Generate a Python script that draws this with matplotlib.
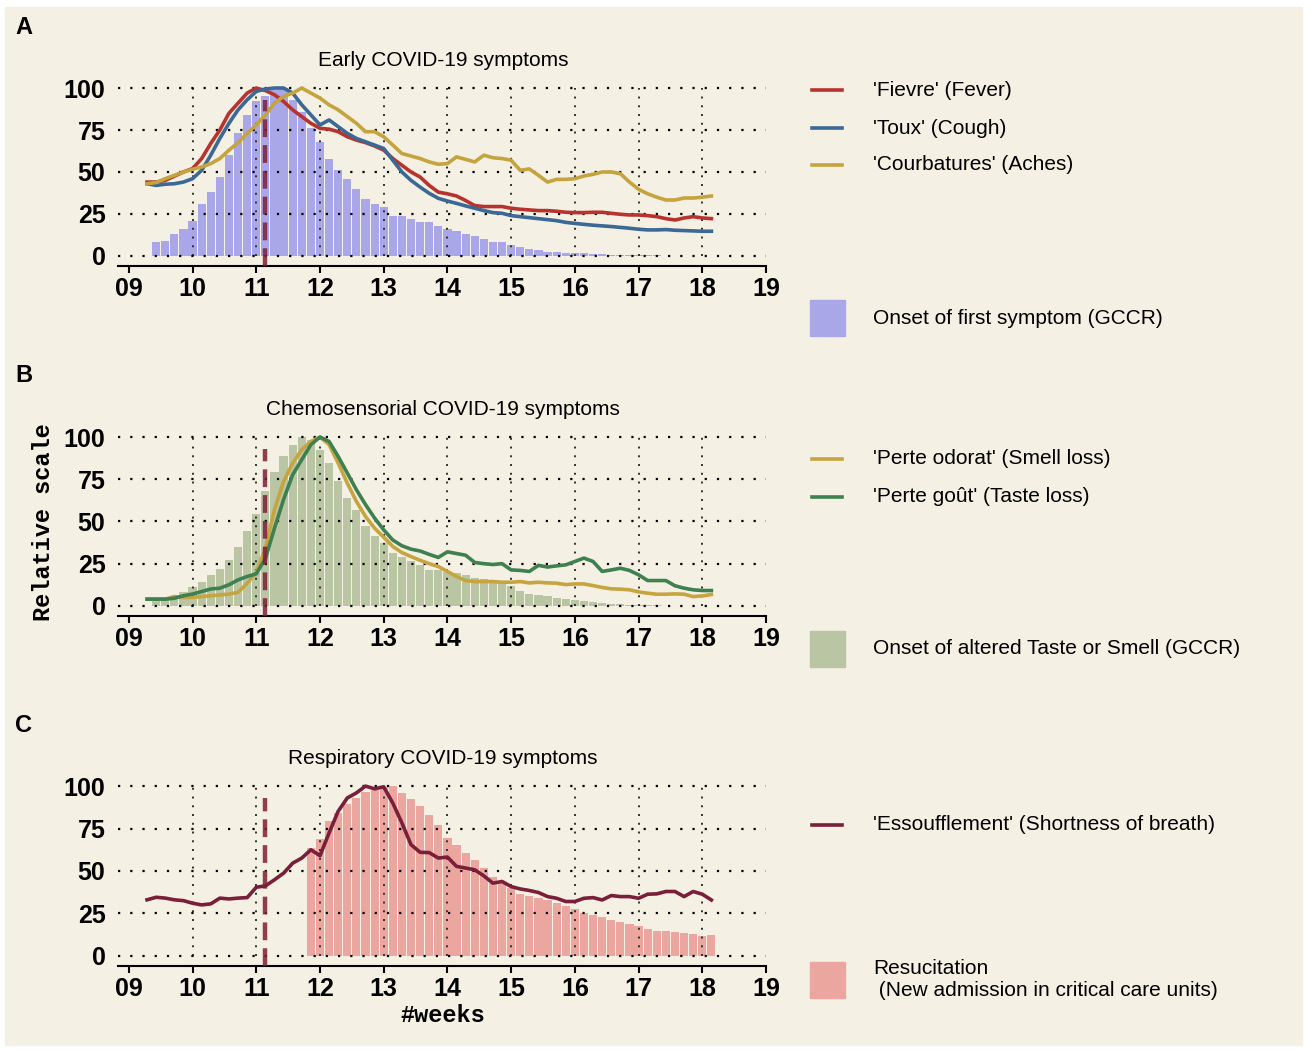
import numpy as np
import matplotlib
matplotlib.use("Agg")
import matplotlib.pyplot as plt
from matplotlib.lines import Line2D
from matplotlib.patches import Rectangle

plt.rcParams["font.family"] = ["Liberation Sans", "DejaVu Sans"]

# ---- data (relative scale, one value per day) ----
# Google trends lines start on week 09 day 2, bars (GCCR / ICU) on week 09 day 3
fever = [44, 44, 45, 47.5, 50, 52, 58, 67, 75, 85,
         91, 97, 100, 98.5, 96, 92, 87, 83, 79, 76,
         75.5, 74, 71, 69, 67.5, 65.5, 63, 58, 54, 50,
         47, 42, 38, 37, 35.7, 33, 30, 29.4, 29.4, 29.4,
         28.4, 27.8, 27.4, 27, 27, 26.6, 26, 25.8, 25.8, 26,
         26, 25.4, 24.8, 24.4, 24.4, 24, 23.4, 22.2, 21.4, 22.6,
         23.4, 22.6, 22.2]
cough = [43, 42, 42.7, 43, 44, 46, 51, 60, 70, 79,
         87, 93, 98, 99.4, 100, 100, 97, 90, 84, 78,
         81, 77, 73, 70, 68, 66, 64, 57, 50, 45,
         41, 37.3, 34.3, 32.7, 31.3, 29.8, 28.4, 27, 25.8, 25.4,
         24, 23.4, 22.8, 22.2, 21.6, 21, 20, 19.4, 18.8, 18.3,
         17.9, 17.5, 17, 16.5, 15.9, 15.5, 15.5, 15.7, 15.3, 15.1,
         14.9, 14.7, 14.7]
aches = [43, 43.7, 46, 48, 50, 51.6, 53, 55, 58, 63,
         67.5, 73, 78, 84, 91, 95, 97, 100, 97, 94,
         90, 87, 83, 79, 74, 74, 71, 66, 61, 59.5,
         58, 56, 54.6, 55, 59, 57.5, 56, 60, 58.5, 58,
         57, 51, 51.8, 48, 44, 45.6, 45.6, 46, 47.6, 48.6,
         50, 50, 49, 44, 39.7, 37, 35, 33.3, 33.3, 34.5,
         34.5, 35, 35.7]
first_symptom = [8, 9, 13, 16, 21, 31, 38, 47, 60, 73,
                 84, 92, 95, 99, 100, 93, 86, 76, 68, 58,
                 51, 46, 40, 34, 31, 29, 24, 24, 22, 20,
                 20, 18, 16, 15, 13, 12, 10, 8.5, 8, 6.5,
                 5.2, 4.2, 3.4, 2.6, 2.2, 2, 1.8, 1.6, 1.2, 1,
                 0.8, 0.6, 0.6, 0.4, 0.4, 0.3, 0.2]

smell = [4, 4, 4, 5.5, 5, 5.1, 5.5, 6, 6.5, 7,
         8, 13.4, 19.8, 34, 57, 73.7, 84.6, 92.5, 97.4, 100,
         95.5, 84.6, 72.7, 61.9, 53, 46, 40.7, 35.2, 31.6, 29.2,
         27, 25, 23.3, 20.4, 17.4, 15, 14.4, 14.4, 14.4, 14,
         14, 14.4, 13.6, 14, 13.6, 13.4, 12.6, 13, 13, 12,
         10.9, 10.1, 9.9, 9.5, 8.3, 7.5, 6.9, 6.9, 7.1, 6.9,
         5.5, 5.9, 6.7]
taste = [4, 4, 4, 4.5, 6, 7, 8.5, 10, 10.5, 12.5,
         15.4, 17.4, 19, 28, 46, 63, 77.7, 86.6, 95.5, 100,
         97.4, 88.5, 78.7, 68.8, 60, 52, 45, 39, 35.6, 33.6,
         32.5, 30.5, 28.7, 32, 31, 30, 25.7, 25, 24.5, 25,
         21.3, 21, 20.4, 24, 23, 23.7, 24.3, 26.3, 28.3, 26.3,
         20.4, 21.3, 22.3, 21, 18.4, 15, 15, 15, 11.9, 10.5,
         9.5, 9.1, 9.1]
taste_smell_onset = [2.6, 3.6, 6, 8.5, 11, 14, 18.4, 22, 27.3, 34.6,
                     44.5, 54.5, 67.8, 79.6, 89, 95.5, 100, 98, 92.5, 84.6,
                     73.7, 63.8, 57, 47.4, 41.5, 37.5, 31.6, 29.2, 26.7, 24.3,
                     21.3, 21, 19.8, 19.4, 18.4, 16.4, 15.8, 15.4, 15, 11.5,
                     9, 7, 6.5, 6, 4.5, 4, 3.2, 2.8, 2.4, 1.8,
                     1.2, 1, 0.8, 0.8, 0.5, 0.3]

breath = [33, 34.5, 34, 33, 32.5, 31, 30, 30.6, 34, 33.5,
          34, 34.3, 40.4, 41.2, 44.8, 48.7, 54.6, 57.6, 62.5, 59,
          72.4, 85.2, 93, 96, 100, 98.4, 99.6, 90, 78.3, 65.5,
          61, 60.8, 57.6, 58.2, 52.7, 51.7, 50.7, 47.1, 42.8, 43.8,
          40.8, 39.4, 38.5, 37.3, 34.9, 33.9, 32, 32, 33.9, 34.3,
          32.9, 35.5, 34.9, 34.9, 33.9, 36.3, 36.5, 37.9, 37.9, 34.9,
          37.9, 36.3, 32.9]
icu_first_day = 17  # ICU admissions start 17 days after the first GCCR bar
icu = [63.5, 69, 79.3, 84.2, 89.2, 93, 96.4, 97.6, 99.6, 100,
       95.7, 92.5, 88.2, 83.2, 77.3, 69.4, 65.5, 60.6, 56.6, 51.7,
       46.4, 42.8, 39.8, 36.5, 35.3, 33.9, 32.9, 31.4, 29.4, 27.4,
       25.4, 24.1, 22.7, 21.1, 20.1, 18.7, 17.8, 16, 14.8, 14.8,
       14, 13.2, 12.6, 11.8, 12.2]

lockdown_week = 11 + 1 / 7
week_ticks = list(range(9, 20))
week_labels = ["%02d" % w for w in week_ticks]


def line_weeks(n):
    return 9 + (np.arange(n) + 2) / 7


def bar_weeks(n, offset=0):
    return 9 + (np.arange(n) + 3 + offset) / 7


# ---- colours ----
BG = "#f4f0e3"
C_FEVER = "#b8332f"
C_COUGH = "#3b6894"
C_ACHES = "#c4a43e"
C_SMELL = "#c6a43f"
C_TASTE = "#3f8050"
C_BREATH = "#7a1f3a"
C_DASH = "#7b1f35"
C_BAR_A = "#a9a7e8"
C_BAR_B = "#b9c5a3"
C_BAR_C = "#eca6a0"

W, H = 1307, 1050
fig = plt.figure(figsize=(W / 100, H / 100), dpi=100, facecolor="white")
fig.add_artist(Rectangle((5 / W, 1 - 1045 / H), 1297 / W, 1038 / H,
                         transform=fig.transFigure, color=BG, zorder=0))


def fx(x):
    return x / W


def fy(y):
    return 1 - y / H


def make_axes(top, bottom):
    ax = fig.add_axes([fx(118), fy(bottom), 648 / W, (bottom - top) / H])
    ax.set_facecolor("none")
    ax.set_xlim(8.83, 19.0)
    ax.set_ylim(-6, 103)
    for s in ["top", "right", "left"]:
        ax.spines[s].set_visible(False)
    ax.spines["bottom"].set_linewidth(1.5)
    ax.set_xticks(week_ticks)
    ax.set_xticklabels(week_labels, fontsize=18, fontweight="bold")
    ax.set_yticks([0, 25, 50, 75, 100])
    ax.set_yticklabels(["0", "25", "50", "75", "100"], fontsize=18, fontweight="bold")
    ax.tick_params(axis="x", direction="out", length=5, width=1.5, pad=3)
    ax.tick_params(axis="y", length=0, pad=9)
    ax.set_axisbelow("line")
    ax.yaxis.grid(True, color="black", linestyle=(0, (1, 4.5)), linewidth=1.6)
    ax.vlines(range(10, 19), 0, 100, color="#2e3326", linestyles=(0, (1, 3.5)),
              linewidth=1.4, zorder=1.5)
    return ax


def dash(ax):
    ax.vlines(lockdown_week, -6, 93, color=C_DASH, linewidth=3.2,
              linestyles=(0, (4, 1.8)), alpha=0.85, zorder=4)


def legend_line(y, color, label):
    fig.add_artist(Line2D([fx(812), fx(842)], [fy(y), fy(y)], color=color,
                          linewidth=2.6, transform=fig.transFigure))
    fig.text(fx(873), fy(y), label, fontsize=15, va="center", ha="left")


def legend_patch(y, color, label):
    fig.add_artist(Rectangle((fx(810), fy(y + 18)), 35 / W, 36 / H, color=color,
                             transform=fig.transFigure))
    fig.text(fx(873), fy(y), label, fontsize=15, va="center", ha="left",
             linespacing=1.2)


bw = 0.9 / 7

# ---- A ----
ax = make_axes(83, 266)
ax.bar(bar_weeks(len(first_symptom)), first_symptom, width=bw, color=C_BAR_A,
       linewidth=0, zorder=1)
ax.plot(line_weeks(len(fever)), fever, color=C_FEVER, lw=2.6, zorder=3)
ax.plot(line_weeks(len(cough)), cough, color=C_COUGH, lw=2.6, zorder=3)
ax.plot(line_weeks(len(aches)), aches, color=C_ACHES, lw=2.6, zorder=3)
dash(ax)
fig.text(fx(443), fy(60), "Early COVID-19 symptoms", fontsize=15, ha="center", va="center")
fig.text(fx(15), fy(27), "A", fontsize=17, fontweight="bold", va="center")
legend_line(90, C_FEVER, "'Fievre' (Fever)")
legend_line(128, C_COUGH, "'Toux' (Cough)")
legend_line(165, C_ACHES, "'Courbatures' (Aches)")
legend_patch(318, C_BAR_A, "Onset of first symptom (GCCR)")

# ---- B ----
ax = make_axes(432, 616)
ax.bar(bar_weeks(len(taste_smell_onset)), taste_smell_onset, width=bw, color=C_BAR_B,
       linewidth=0, zorder=1)
ax.plot(line_weeks(len(smell)), smell, color=C_SMELL, lw=2.6, zorder=3)
ax.plot(line_weeks(len(taste)), taste, color=C_TASTE, lw=2.6, zorder=3)
dash(ax)
fig.text(fx(443), fy(409), "Chemosensorial COVID-19 symptoms", fontsize=15, ha="center", va="center")
fig.text(fx(15), fy(376), "B", fontsize=17, fontweight="bold", va="center")
fig.text(fx(44), fy(522), "Relative scale", family="Liberation Mono", fontweight="bold",
         fontsize=17, rotation=90, ha="center", va="center")
legend_line(459, C_SMELL, "'Perte odorat' (Smell loss)")
legend_line(497, C_TASTE, "'Perte goût' (Taste loss)")
legend_patch(649, C_BAR_B, "Onset of altered Taste or Smell (GCCR)")

# ---- C ----
ax = make_axes(781, 966)
ax.bar(bar_weeks(len(icu), icu_first_day), icu, width=bw, color=C_BAR_C,
       linewidth=0, zorder=1)
ax.plot(line_weeks(len(breath)), breath, color=C_BREATH, lw=2.6, zorder=3)
dash(ax)
fig.text(fx(443), fy(759), "Respiratory COVID-19 symptoms", fontsize=15, ha="center", va="center")
fig.text(fx(15), fy(725), "C", fontsize=17, fontweight="bold", va="center")
fig.text(fx(443), fy(1015), "#weeks", family="Liberation Mono", fontweight="bold",
         fontsize=17, ha="center", va="center")
legend_line(825, C_BREATH, "'Essoufflement' (Shortness of breath)")
legend_patch(980, C_BAR_C, "Resucitation\n (New admission in critical care units)")

fig.savefig("out.png", dpi=100, facecolor=fig.get_facecolor())
